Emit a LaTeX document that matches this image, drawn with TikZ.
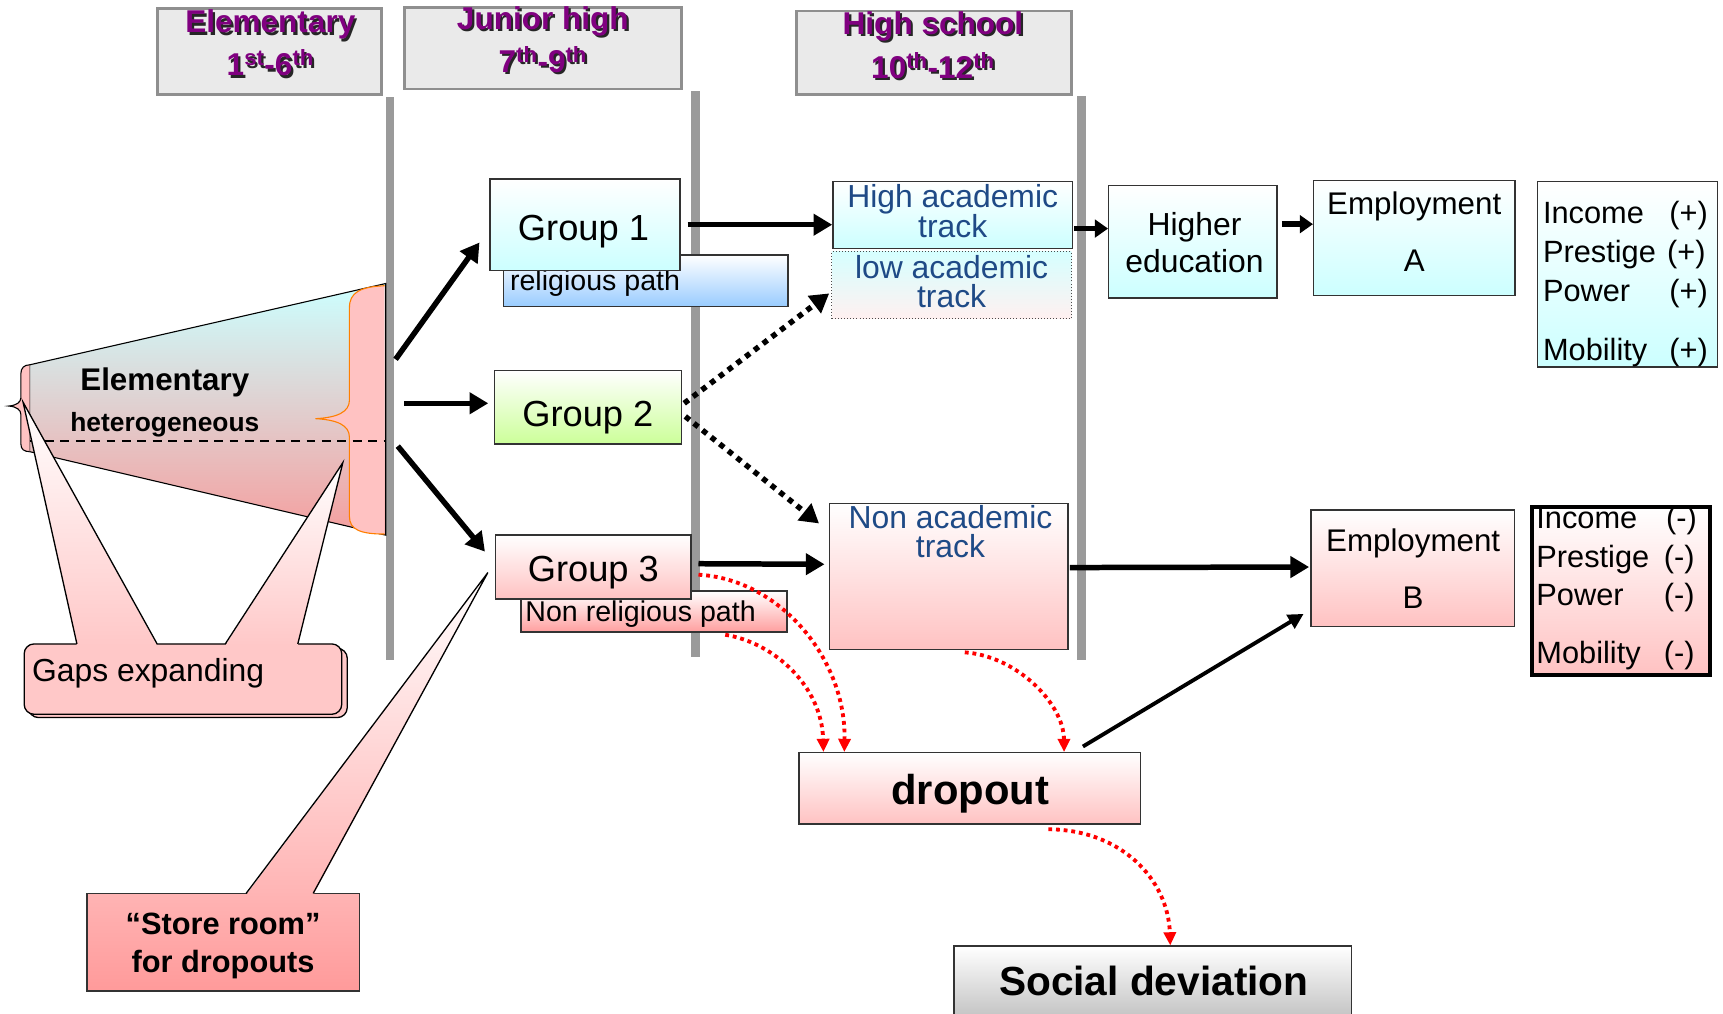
\documentclass[tikz,border=0pt]{standalone}
\usepackage{fontspec}
\setmainfont{Liberation Sans}
\usetikzlibrary{arrows.meta,calc}
\definecolor{cyanl}{HTML}{CCFFFF}
\definecolor{greenl}{HTML}{CCFF99}
\definecolor{pinkl}{HTML}{FFC2C2}
\definecolor{pinkg}{HTML}{FFC8C8}
\definecolor{salm}{HTML}{FF9F9F}
\definecolor{bluel}{HTML}{99CCFF}
\definecolor{hdrfill}{HTML}{EAEAEA}
\definecolor{hdrline}{HTML}{8F8F8F}
\definecolor{purp}{HTML}{800080}
\definecolor{trackblue}{HTML}{1F4A86}
\definecolor{barg}{HTML}{9A9A9A}
\definecolor{orangeb}{HTML}{FF7F00}
\definecolor{trapbot}{HTML}{F59E9E}
\definecolor{srtop}{HTML}{FFB4B4}
\definecolor{srbot}{HTML}{FF9A9A}
\definecolor{sdgray}{HTML}{C4C4C4}
\definecolor{latop}{HTML}{D6FFFF}
\definecolor{labot}{HTML}{FFF0F0}
\newcommand\fs[2]{\fontsize{#1}{#2}\selectfont}
\newcommand\hdrtxt[4]{%
  \node[hdrt, text=black!85] (#1s) at ($(#2,#3)+(2,2)$) {#4};
  \node[hdrt] (#1) at (#2,#3) {#4};}
\begin{document}
\begin{tikzpicture}[x=1pt,y=-1pt,
  bx/.style={draw=black!80, line width=1.3pt, inner sep=0pt, rectangle},
  txt/.style={inner sep=0pt, anchor=base, font=\fs{29}{32}},
  trk/.style={txt, text=trackblue},
  hdr/.style={draw=hdrline, fill=hdrfill, line width=2.5pt, inner sep=0pt, rectangle},
  hdrt/.style={inner sep=0pt, anchor=base, font=\fs{28.7}{30}\bfseries, text=purp},
  thk/.style={line width=5pt, -{Triangle[length=17pt,width=19pt]}},
  shortarr/.style={line width=5pt, -{Triangle[length=12pt,width=16pt]}},
  dotarr/.style={line width=5pt, dash pattern=on 5pt off 5pt, -{Triangle[length=17pt,width=19pt]}},
  thinarr/.style={line width=3.5pt, -{Triangle[length=14pt,width=14pt]}},
  reddot/.style={draw=red, line width=3.5pt, dash pattern=on 3.5pt off 3.5pt, -{Triangle[length=12pt,width=11pt]}},
  outl/.style={line width=1.2pt}
]
\useasboundingbox (0,0) rectangle (1568,922);
\clip (0,0) rectangle (1568,922);

% vertical grade separators
\fill[barg] (351,88) rectangle (359,601);
\fill[barg] (629,83) rectangle (637,598);
\fill[barg] (980,87) rectangle (988,601);

% headers
\node[hdr, minimum width=204pt, minimum height=78pt] (h1) at (245,47) {};
\node[hdr, minimum width=252pt, minimum height=74pt] (h2) at (494,44) {};
\node[hdr, minimum width=250pt, minimum height=76pt] (h3) at (850,48) {};
\hdrtxt{h1a}{246}{30}{Elementary}
\hdrtxt{h1b}{246}{69}{1\textsuperscript{st}-6\textsuperscript{th}}
\hdrtxt{h2a}{494}{27}{Junior high}
\hdrtxt{h2b}{494}{66}{7\textsuperscript{th}-9\textsuperscript{th}}
\hdrtxt{h3a}{849}{31}{High school}
\hdrtxt{h3b}{849}{71}{10\textsuperscript{th}-12\textsuperscript{th}}

% elementary trapezoid
\draw[line width=1pt, top color=cyanl, bottom color=trapbot] (27,332) -- (351,258) -- (351,487) -- (27,411) -- cycle;
\draw[line width=1pt, fill=pinkl] (27,332) .. controls (22,332) and (19,335) .. (19,340) -- (19,362) .. controls (19,366) and (15,369) .. (8,369.5) .. controls (15,370) and (19,373) .. (19,377) -- (19,404) .. controls (19,409) and (22,411) .. (27,411);
\draw[line width=1pt, draw=orangeb, fill=pinkl] (350,260) .. controls (328,261) and (318,266) .. (318,280) -- (318,364) .. controls (318,375) and (307,380) .. (287,381) .. controls (307,382) and (318,387) .. (318,398) -- (318,470) .. controls (318,482) and (328,486) .. (350,486);
\draw[line width=2pt, dash pattern=on 8pt off 6pt] (27,401) -- (351,401);
\node[txt, font=\fs{28.5}{30}\bfseries] (elt) at (150,355) {Elementary};
\node[txt, font=\fs{24}{26}\bfseries] (het) at (150,393) {heterogeneous};

% Gaps expanding callout
\draw[outl, fill=pinkg, rounded corners=9pt] (26,590) rectangle (316,653);
\draw[outl, fill=pinkg, rounded corners=9pt] (22,586) rectangle (311,650);
\path[top color=white, bottom color=pinkg] (70,587.5) -- (21,366) -- (143,587.5) -- cycle;
\path[top color=white, bottom color=pinkg] (205,587.5) -- (312,421) -- (271,587.5) -- cycle;
\draw[outl] (70,586) -- (21,366) -- (143,586);
\draw[outl] (205,586) -- (312,421) -- (271,586);
\node[txt, anchor=base west] (gxt) at (29,620) {Gaps expanding};

% Store room callout
\node[bx, top color=srtop, bottom color=srbot, minimum width=248pt, minimum height=89pt] (sr) at (203,857.5) {};
\path[top color=white, bottom color=srtop] (224,814.5) -- (444,521) -- (285,814.5) -- cycle;
\draw[outl] (224,813) -- (444,521) -- (285,813);
\node[txt, font=\fs{28}{30}\bfseries] (sr1) at (203,850) {“Store room”};
\node[txt, font=\fs{28}{30}\bfseries] (sr2) at (203,885) {for dropouts};

% junior high groups
\node[bx, top color=white, bottom color=bluel, minimum width=259pt, minimum height=47pt] (rp) at (587.5,255.5) {};
\node[txt, anchor=base west, font=\fs{26}{28}] (rpt) at (464,264) {religious path};
\node[bx, top color=white, bottom color=cyanl, minimum width=173pt, minimum height=83pt] (g1) at (532.5,204.5) {};
\node[txt, font=\fs{33}{36}] (g1t) at (531,219) {Group 1};
\node[bx, top color=white, bottom color=greenl, minimum width=170pt, minimum height=67pt] (g2) at (535,370.5) {};
\node[txt, font=\fs{33}{36}] (g2t) at (535,388) {Group 2};
\node[bx, top color=white, bottom color=salm, minimum width=242pt, minimum height=37pt] (nrp) at (595,556.5) {};
\node[txt, anchor=base west, font=\fs{26}{28}] (nrpt) at (478,566) {Non religious path};
\node[bx, top color=white, bottom color=pinkl, minimum width=178pt, minimum height=58pt] (g3) at (540,516) {};
\node[txt, font=\fs{33}{36}] (g3t) at (540,529) {Group 3};

% high school tracks
\node[bx, top color=white, bottom color=cyanl, minimum width=218pt, minimum height=61pt] (hat) at (867,195.5) {};
\node[trk] (hat1) at (867,189) {High academic};
\node[trk] (hat2) at (867,216) {track};
\node[draw=black!70, line width=0.8pt, dotted, inner sep=0pt, top color=latop, bottom color=labot, minimum width=218pt, minimum height=61pt] (lat) at (866,259.5) {};
\node[trk] (lat1) at (866,253) {low academic};
\node[trk] (lat2) at (866,280) {track};
\node[bx, top color=white, bottom color=pinkl, minimum width=217pt, minimum height=133pt] (nat) at (863.5,524.5) {};
\node[trk] (nat1) at (865,481) {Non academic};
\node[trk] (nat2) at (865,507) {track};

% outcomes
\node[bx, top color=white, bottom color=cyanl, minimum width=153pt, minimum height=102pt] (he) at (1085.5,220) {};
\node[txt] (he1) at (1087,214) {Higher};
\node[txt] (he2) at (1087,248) {education};
\node[bx, top color=white, bottom color=cyanl, minimum width=183pt, minimum height=105pt] (ea) at (1287,216.5) {};
\node[txt, font=\fs{28.5}{30}] (ea1) at (1287,195) {Employment};
\node[txt, font=\fs{28.5}{30}] (ea2) at (1287,247) {A};
\node[bx, top color=white, bottom color=cyanl, minimum width=164pt, minimum height=169pt] (ip) at (1481,249.5) {};
\node[txt, anchor=base west, font=\fs{28}{30}] (ip1) at (1404,203) {\hbox to 150pt{Income\hfill(+)}};
\node[txt, anchor=base west, font=\fs{28}{30}] (ip2) at (1404,239) {\hbox to 148pt{Prestige\hfill(+)}};
\node[txt, anchor=base west, font=\fs{28}{30}] (ip3) at (1404,274) {\hbox to 150pt{Power\hfill(+)}};
\node[txt, anchor=base west, font=\fs{28}{30}] (ip4) at (1404,328) {\hbox to 150pt{Mobility\hfill(+)}};
\node[bx, top color=white, bottom color=pinkl, minimum width=185pt, minimum height=106pt] (eb) at (1285.5,517) {};
\node[txt, font=\fs{28.5}{30}] (eb1) at (1286,502) {Employment};
\node[txt, font=\fs{28.5}{30}] (eb2) at (1286,554) {B};
\node[draw=black, line width=3.5pt, inner sep=0pt, top color=white, bottom color=pinkl, minimum width=162pt, minimum height=153pt] (im) at (1475,537.5) {};
\node[txt, anchor=base west, font=\fs{28}{30}] (im1) at (1398,481) {\hbox to 146pt{Income\hfill(-)}};
\node[txt, anchor=base west, font=\fs{28}{30}] (im2) at (1398,516) {\hbox to 144pt{Prestige\hfill(-)}};
\node[txt, anchor=base west, font=\fs{28}{30}] (im3) at (1398,551) {\hbox to 144pt{Power\hfill(-)}};
\node[txt, anchor=base west, font=\fs{28}{30}] (im4) at (1398,604) {\hbox to 144pt{Mobility\hfill(-)}};

\node[bx, top color=white, bottom color=pinkl, minimum width=311pt, minimum height=65pt] (dr) at (882.5,717.5) {};
\node[txt, font=\fs{38}{40}\bfseries] (drt) at (883,732) {dropout};
\node[bx, top color=white, bottom color=sdgray, minimum width=362pt, minimum height=64pt] (sd) at (1049,893) {};
\node[txt, font=\fs{37}{40}\bfseries] (sdt) at (1050,906) {Social deviation};

% connectors
\coordinate (s1) at (360,327);
\coordinate (s2) at (368,367);
\coordinate (s3) at (362,406);
\draw[thk] (s1) -- ($(g1.south west)+(-9,-26)$);
\draw[thk] (s2) -- ($(g2.west)+(-5,-3.5)$);
\draw[thk] (s3) -- ($(g3.west)+(-9,-14)$);
\draw[thk] ($(g1.east)+(6,0)$) -- ($(hat.west)+(0,9)$);
\draw[dotarr] ($(g2.east)+(2,-3.5)$) -- ($(lat.west)+(-2,7.5)$);
\draw[dotarr] ($(g2.east)+(3,8.5)$) -- ($(nat.north west)+(-9,19)$);
\draw[thk] ($(g3.east)+(6,-3)$) -- ($(nat.west)+(-4,-11)$);
\draw[shortarr] ($(hat.east)+(1,12.5)$) -- ($(he.west)+(0,-12)$);
\draw[shortarr] ($(he.east)+(4,-16)$) -- ($(ea.west)+(0,-12.5)$);
\draw[thk] ($(nat.east)+(1,-8)$) -- ($(eb.west)+(-1,-1)$);
\draw[thinarr] ($(dr.north)+(103,-5)$) -- ($(eb.south west)+(-6,-12)$);

\draw[reddot] ($(g3.east)+(6,7)$) .. controls (710,527) and (770,600) .. ($(dr.north west)+(42,0)$);
\draw[reddot] ($(nrp.south)+(65,2)$) .. controls (705,585) and (748,625) .. ($(dr.north west)+(23,0)$);
\draw[reddot] ($(nat.south)+(14.5,2)$) .. controls (925,597) and (968,640) .. ($(dr.north west)+(242,0)$);
\draw[reddot] ($(dr.south)+(71.5,4)$) .. controls (1020,755) and (1063,800) .. ($(sd.north)+(16,0)$);
\end{tikzpicture}
\end{document}
